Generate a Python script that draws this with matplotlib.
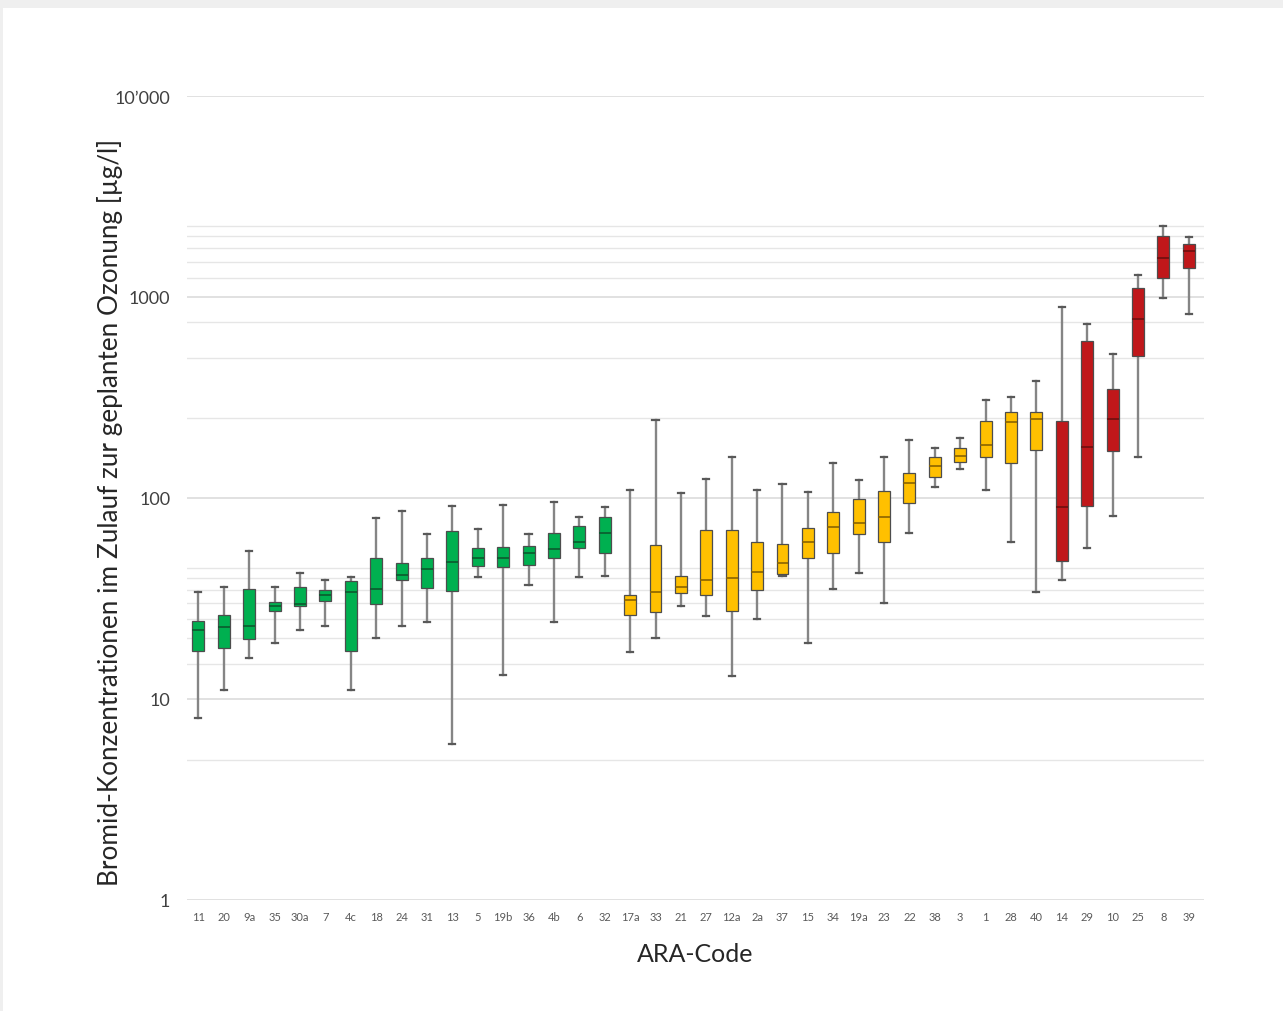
import numpy as np
import matplotlib
matplotlib.use("Agg")
import matplotlib.pyplot as plt
from matplotlib.ticker import FixedLocator, NullFormatter

# ARA codes (x axis) and box statistics [µg/l]
codes = ["11", "20", "9a", "35", "30a", "7", "4c", "18", "24", "31", "13", "5",
         "19b", "36", "4b", "6", "32", "17a", "33", "21", "27", "12a", "2a", "37",
         "15", "34", "19a", "23", "22", "38", "3", "1", "28", "40", "14", "29",
         "10", "25", "8", "39"]
whis_lo = [8.0, 11.1, 16.0, 19.0, 22.0, 23.1, 11.1, 20.1, 23.1, 24.2, 6.0, 40.5,
           13.2, 36.9, 24.2, 40.5, 40.9, 17.1, 20.1, 29.0, 25.9, 13.0, 25.0, 41.0,
           19.0, 35.3, 42.4, 30.0, 66.9, 113, 139, 110, 60.4, 34.1, 39.1, 56.4,
           81.4, 160, 988, 823]
q1 = [17.3, 17.9, 19.9, 27.4, 29.0, 30.7, 17.3, 29.7, 39.1, 35.7, 34.5, 45.9,
      45.4, 46.4, 50.3, 56.4, 53.3, 26.2, 27.1, 33.7, 32.9, 27.4, 34.9, 41.9,
      50.3, 53.3, 66.2, 60.4, 94.4, 127, 151, 160, 149, 173, 48.6, 91.2,
      171, 509, 1244, 1394]
median = [22.0, 22.8, 23.1, 29.0, 29.7, 32.9, 34.1, 35.3, 41.4, 44.3, 48.0, 50.3,
          50.3, 53.3, 55.8, 60.4, 66.9, 31.1, 34.1, 36.0, 39.1, 40.0, 42.8, 47.5,
          60.4, 71.7, 75.1, 80.4, 119, 144, 162, 183, 239, 247, 90.2, 179,
          247, 778, 1563, 1693]
q3 = [24.4, 26.2, 35.3, 30.4, 36.0, 34.9, 38.6, 50.3, 47.5, 50.3, 68.5, 56.4,
      57.1, 57.7, 66.9, 72.6, 80.4, 32.9, 58.4, 40.9, 69.3, 69.3, 60.4, 59.0,
      71.0, 85.2, 98.9, 108, 133, 160, 177, 242, 268, 268, 242, 604,
      349, 1109, 2010, 1836]
whis_hi = [34.0, 36.0, 54.5, 36.0, 42.4, 39.1, 40.5, 79.5, 86.1, 66.2, 91.2, 70.1,
           92.3, 66.2, 95.5, 80.4, 90.2, 110, 244, 106, 124, 160, 110, 117,
           107, 149, 123, 160, 194, 177, 199, 307, 318, 382, 891, 734,
           520, 1285, 2256, 1990]
# group of each ARA: 0 = green, 1 = yellow, 2 = red
group = [0] * 17 + [1] * 17 + [2] * 6

fill_colors = ["#00b050", "#ffc000", "#c0171a"]
median_colors = ["#0b5a2e", "#8a6400", "#6e0f0f"]

W, H = 1283, 1012
fig = plt.figure(figsize=(W / 100, H / 100), dpi=100)
fig.patch.set_facecolor("#efefef")
bg = plt.Rectangle((3 / W, 0), 1, 1 - 9 / H, transform=fig.transFigure,
                   facecolor="white", edgecolor="none", zorder=-10)
fig.patches.append(bg)

ax = fig.add_axes([187 / W, 1 - 901 / H, (1204 - 187) / W, (901 - 97) / H])
ax.set_facecolor("none")
ax.set_zorder(5)

stats = []
for i in range(len(codes)):
    stats.append({"whislo": whis_lo[i], "q1": q1[i], "med": median[i],
                  "q3": q3[i], "whishi": whis_hi[i], "fliers": []})

pos = np.arange(len(codes))
bp = ax.bxp(stats, positions=pos, widths=0.47, patch_artist=True, showfliers=False,
            boxprops=dict(linewidth=0.9, edgecolor="#4d4d4d"),
            whiskerprops=dict(color="#858585", linewidth=1.7),
            capprops=dict(color="#595959", linewidth=1.6),
            medianprops=dict(linewidth=1.2),
            capwidths=0.24, manage_ticks=False)
for i, box in enumerate(bp["boxes"]):
    box.set_facecolor(fill_colors[group[i]])
    box.set_zorder(3)
for i, med in enumerate(bp["medians"]):
    med.set_color(median_colors[group[i]])
    med.set_zorder(4)

ax.set_yscale("log")
ax.set_ylim(1, 10000)
ax.set_xlim(-0.45, 39.6)

ax.yaxis.set_major_locator(FixedLocator([1, 10, 100, 1000, 10000]))
ax.set_yticklabels(["1", "10", "100", "1000", "10\u2019000"])
ax.yaxis.set_minor_locator(FixedLocator([5, 15, 20, 25, 30, 35, 40, 45, 250, 500, 750,
                                         1250, 1500, 1750, 2000, 2250]))
ax.yaxis.set_minor_formatter(NullFormatter())
ax.grid(which="major", axis="y", color="#d9d9d9", linewidth=1.1, zorder=0)
ax.grid(which="minor", axis="y", color="#e6e6e6", linewidth=1.0, zorder=0)
ax.set_axisbelow(True)

ax.set_xticks(pos)
ax.set_xticklabels(codes)
ax.tick_params(axis="x", length=0, pad=8, labelsize=8, labelcolor="#595959")
ax.tick_params(axis="y", which="both", length=0, pad=12, labelsize=13, labelcolor="#404040")
for lab in ax.get_xticklabels() + ax.get_yticklabels():
    lab.set_family("Lato")

for s in ax.spines.values():
    s.set_visible(False)

ax.set_xlabel("ARA-Code", family="Lato", fontsize=18, color="#262626", labelpad=14)
ax.set_ylabel("Bromid-Konzentrationen im Zulauf zur geplanten Ozonung [µg/l]",
              family="Lato", fontsize=18.8, color="#262626")
ax.yaxis.set_label_coords((123 - 187) / 1017, (901 - 512) / 804)

fig.savefig("out.png", dpi=100)
